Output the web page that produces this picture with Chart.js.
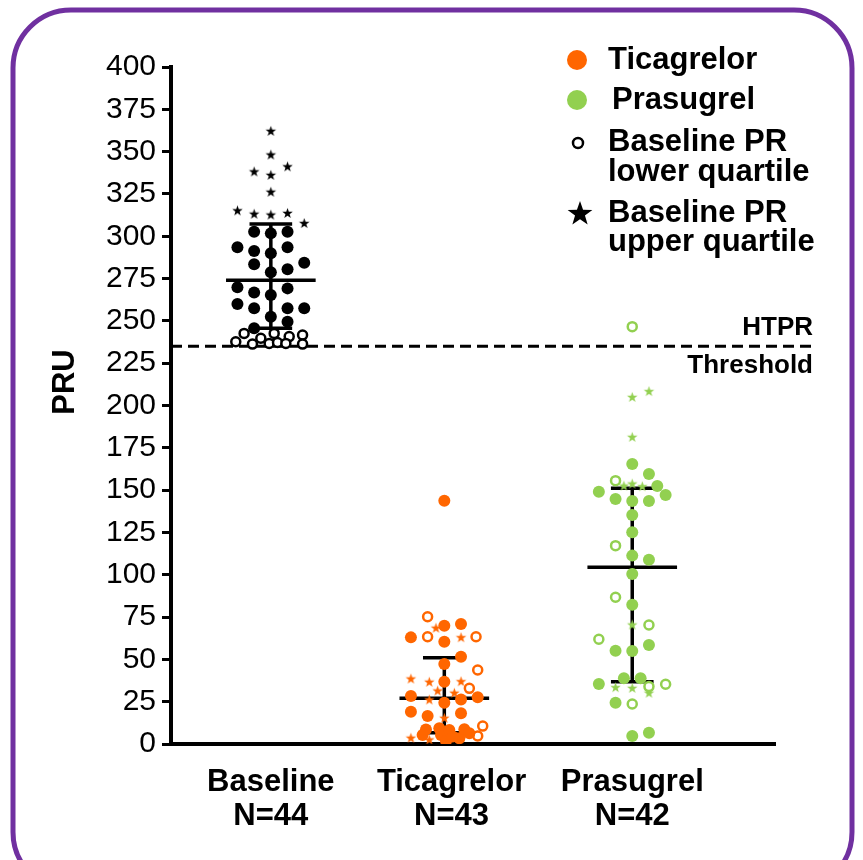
<!DOCTYPE html>
<html>
<head>
<meta charset="utf-8">
<script src="https://cdn.jsdelivr.net/npm/chart.js@4.4.1/dist/chart.umd.min.js"></script>
<style>
  html, body { margin: 0; padding: 0; background: #fff; }
</style>
</head>
<body>
<canvas id="myChart" width="863" height="860"></canvas>
<script>
var groups = ["Baseline", "Ticagrelor", "Prasugrel"];
var groupN = [44, 43, 42];
var groupPos = [1, 1.96, 3];
var tickPos = [1, 2, 3];
var threshold = 235;
var meanPRU = [274, 27, 104.4];
var sdLow = [245.6, 6.7, 36.8];
var sdHigh = [307.2, 51.0, 151.1];

// Baseline: filled = middle quartiles, ring = lower quartile, star = upper quartile
var baseDotPRU = [302.7, 301.7, 302.7, 293.5, 291.3, 289.9, 293.5, 283.4, 278.7, 280.5, 284.4, 269.8, 266.7, 265.3, 269.2, 260, 257.4, 257.4, 257.4, 252.5, 249.5, 245.6];
var baseDotLane = [-1, 0, 1, -2, -1, 0, 1, -1, 0, 1, 2, -2, -1, 0, 1, -2, -1, 1, 2, 0, 1, -1];
var baseRingPRU = [242.6, 239.7, 242.6, 240.7, 241.6, 237.7, 236.3, 236.7, 237.2, 236.7, 236.3];
var baseRingLane = [-1.6, -0.6, 0.2, 1.1, 1.9, -2.1, -1.1, -0.1, 0.4, 0.9, 1.9];
var baseStarPRU = [362, 348, 338, 341, 336, 326, 315, 313, 312.5, 313.5, 307.5];
var baseStarLane = [0, 0, -1, 1, 0, 0, -2, -1, 0, 1, 2];

// Ticagrelor
var ticaDotPRU = [143.7, 69.9, 70.9, 63.0, 60.4, 51.6, 47.3, 36.8, 28.4, 24.4, 26.3, 27.6, 19.1, 16.5, 18.1, 5.3, 8.5, 9.3, 5.3, 8.3, 1.8, 3.4, 8.7, 6.3, 4.5];
var ticaDotLane = [0, 0, 1, -2, 0, 1, 0, 0, -2, 0, 1, 2, -2, -1, 1, -1.3, -1.1, -0.3, -0.2, 0.3, 0.1, 0.9, 1.2, 1.5, 0.5];
var ticaRingPRU = [75.2, 63.4, 63.4, 43.7, 32.9, 10.6, 4.7];
var ticaRingLane = [-1, -1, 1.9, 2, 1.5, 2.3, 2];
var ticaStarPRU = [68.4, 62.8, 38.4, 36.5, 36.8, 31.3, 30.0, 26.0, 15.2, 3.4, 2.4];
var ticaStarLane = [-0.5, 1, -2, -0.9, 1, -0.4, 0.6, -0.9, 0, -2, -0.9];

// Prasugrel
var prasDotPRU = [165.4, 159.5, 152.4, 149.1, 147.1, 144.8, 143.6, 143.6, 135.3, 125.1, 111.3, 108.9, 100.4, 82.3, 55.1, 54.9, 58.5, 38.8, 38.8, 35.5, 24.4, 4.7, 6.7];
var prasDotLane = [0, 1, 1.5, -2, 2, -1, 0, 1, 0, 0, 0, 1, 0, 0, -1, 0, 1, -0.5, 0.5, -2, -1, 0, 1];
var prasRingPRU = [246.6, 155.6, 117.2, 86.7, 70.3, 61.9, 35.3, 33.9, 23.6];
var prasRingLane = [0, -1, -1, -1, 1, -2, 2, 1, 0];
var prasStarPRU = [208.2, 204.8, 181.2, 152.4, 153.6, 152.0, 70.3, 33.3, 32.9, 30.0];
var prasStarLane = [1, 0, 0, -0.5, 0, 0.6, 0, -1, 0, 1];

var groupColors = ["#000000", "#FF6600", "#92D050"];
var laneWidth = 0.0924;
var FONT = "'Liberation Sans', Arial, Helvetica, sans-serif";
Chart.defaults.font.family = FONT;
Chart.defaults.color = "#000";

function starCanvas(color, r) {
    var c = document.createElement("canvas");
    var s = Math.ceil(r * 2 + 2);
    c.width = s;
    c.height = s;
    var g = c.getContext("2d");
    g.fillStyle = color;
    g.beginPath();
    for (var i = 0; i < 10; i++) {
        var rad = i % 2 === 0 ? r : r * 0.4;
        var a = -Math.PI / 2 + i * Math.PI / 5;
        g.lineTo(s / 2 + rad * Math.cos(a), s / 2 + rad * Math.sin(a));
    }
    g.closePath();
    g.fill();
    return c;
}

function pts(g, vals, lanes) {
    return vals.map(function (v, i) {
        return { x: groupPos[g] + lanes[i] * laneWidth, y: v };
    });
}

function dotSet(g, vals, lanes) {
    return { data: pts(g, vals, lanes), pointStyle: "circle", pointRadius: 6,
        backgroundColor: groupColors[g], borderColor: groupColors[g], borderWidth: 0 };
}
function ringSet(g, vals, lanes) {
    return { data: pts(g, vals, lanes), pointStyle: "circle", pointRadius: 4.5,
        backgroundColor: "#fff", borderColor: groupColors[g], borderWidth: 2.5 };
}
function starSet(g, vals, lanes) {
    return { data: pts(g, vals, lanes), pointStyle: starCanvas(groupColors[g], 5.5), pointRadius: 5.5 };
}

var datasets = [
    dotSet(0, baseDotPRU, baseDotLane), ringSet(0, baseRingPRU, baseRingLane), starSet(0, baseStarPRU, baseStarLane),
    dotSet(1, ticaDotPRU, ticaDotLane), ringSet(1, ticaRingPRU, ticaRingLane), starSet(1, ticaStarPRU, ticaStarLane),
    dotSet(2, prasDotPRU, prasDotLane), ringSet(2, prasRingPRU, prasRingLane), starSet(2, prasStarPRU, prasStarLane)
];

function roundRect(ctx, x, y, w, h, r) {
    ctx.beginPath();
    ctx.moveTo(x + r, y);
    ctx.lineTo(x + w - r, y);
    ctx.arcTo(x + w, y, x + w, y + r, r);
    ctx.lineTo(x + w, y + h - r);
    ctx.arcTo(x + w, y + h, x + w - r, y + h, r);
    ctx.lineTo(x + r, y + h);
    ctx.arcTo(x, y + h, x, y + h - r, r);
    ctx.lineTo(x, y + r);
    ctx.arcTo(x, y, x + r, y, r);
    ctx.closePath();
}

var decor = {
    id: "decor",
    beforeDraw: function (chart) {
        var ctx = chart.ctx;
        ctx.save();
        ctx.fillStyle = "#fff";
        ctx.fillRect(0, 0, chart.width, chart.height);
        ctx.strokeStyle = "#7030A0";
        ctx.lineWidth = 5;
        roundRect(ctx, 13, 10, 839, 880, 58);
        ctx.stroke();
        ctx.restore();
    },
    beforeDatasetsDraw: function (chart) {
        var ctx = chart.ctx, x = chart.scales.x, y = chart.scales.y;
        ctx.save();
        // HTPR threshold
        ctx.strokeStyle = "#000";
        ctx.lineWidth = 3;
        ctx.setLineDash([11, 6]);
        ctx.beginPath();
        ctx.moveTo(chart.chartArea.left, y.getPixelForValue(threshold));
        ctx.lineTo(x.getPixelForValue(4.0), y.getPixelForValue(threshold));
        ctx.stroke();
        ctx.setLineDash([]);
        // mean and SD bars
        ctx.lineWidth = 3.5;
        for (var g = 0; g < groups.length; g++) {
            var cx = x.getPixelForValue(groupPos[g]);
            var yl = y.getPixelForValue(sdLow[g]), yh = y.getPixelForValue(sdHigh[g]), ym = y.getPixelForValue(meanPRU[g]);
            var c1 = x.getPixelForValue(groupPos[g] - 0.118), c2 = x.getPixelForValue(groupPos[g] + 0.118);
            var m1 = x.getPixelForValue(groupPos[g] - 0.248), m2 = x.getPixelForValue(groupPos[g] + 0.248);
            ctx.beginPath();
            ctx.moveTo(cx, yh); ctx.lineTo(cx, yl);
            ctx.moveTo(c1, yh); ctx.lineTo(c2, yh);
            ctx.moveTo(c1, yl); ctx.lineTo(c2, yl);
            ctx.moveTo(m1, ym); ctx.lineTo(m2, ym);
            ctx.stroke();
        }
        ctx.restore();
    },
    afterDraw: function (chart) {
        var ctx = chart.ctx;
        ctx.save();
        ctx.fillStyle = "#000";
        // y title
        ctx.save();
        ctx.translate(65, 382);
        ctx.rotate(-Math.PI / 2);
        ctx.font = "bold 31px " + FONT;
        ctx.textAlign = "center";
        ctx.textBaseline = "middle";
        ctx.fillText("PRU", 0, 0);
        ctx.restore();
        // threshold labels
        ctx.font = "bold 26px " + FONT;
        ctx.textAlign = "right";
        ctx.textBaseline = "middle";
        ctx.fillText("HTPR", 813, 328);
        ctx.fillText("Threshold", 813, 366);
        // legend
        ctx.fillStyle = groupColors[1];
        ctx.beginPath(); ctx.arc(577, 60, 10, 0, Math.PI * 2); ctx.fill();
        ctx.fillStyle = groupColors[2];
        ctx.beginPath(); ctx.arc(577, 100, 10, 0, Math.PI * 2); ctx.fill();
        ctx.strokeStyle = "#000";
        ctx.lineWidth = 2.5;
        ctx.beginPath(); ctx.arc(578, 143, 5, 0, Math.PI * 2); ctx.stroke();
        var st = starCanvas("#000", 13);
        ctx.drawImage(st, 580 - st.width / 2, 214 - st.height / 2);
        ctx.fillStyle = "#000";
        ctx.font = "bold 31px " + FONT;
        ctx.textAlign = "left";
        ctx.fillText("Ticagrelor", 608, 60);
        ctx.fillText("Prasugrel", 612, 100);
        ctx.fillText("Baseline PR", 608, 142);
        ctx.fillText("lower quartile", 608, 172);
        ctx.fillText("Baseline PR", 608, 213);
        ctx.fillText("upper quartile", 608, 242);
        ctx.restore();
    }
};

new Chart("myChart", {
    type: "scatter",
    data: { datasets: datasets },
    options: {
        responsive: false,
        animation: false,
        layout: { padding: { left: 48, right: 88, top: 67, bottom: 0 } },
        plugins: { legend: { display: false }, tooltip: { enabled: false } },
        scales: {
            x: {
                type: "linear",
                min: 0.4475,
                max: 3.79,
                afterBuildTicks: function (s) { s.ticks = tickPos.map(function (v) { return { value: v }; }); },
                afterFit: function (s) { s.height = 116; },
                grid: { display: true, drawOnChartArea: false, drawTicks: false },
                border: { display: true, color: "#000", width: 4 },
                ticks: {
                    color: "#000",
                    autoSkip: false,
                    maxRotation: 0,
                    padding: 22,
                    font: { size: 31, weight: "bold", lineHeight: 1.08 },
                    callback: function (v) {
                        var i = tickPos.indexOf(v);
                        return [groups[i], "N=" + groupN[i]];
                    }
                }
            },
            y: {
                min: 0,
                max: 400,
                afterFit: function (s) { s.width = 123; },
                ticks: { stepSize: 25, color: "#000", padding: 6, font: { size: 30 } },
                grid: { drawOnChartArea: false, drawTicks: true, tickLength: 9, lineWidth: 3, color: "#000" },
                border: { display: true, color: "#000", width: 4 }
            }
        }
    },
    plugins: [decor]
});
</script>
</body>
</html>
